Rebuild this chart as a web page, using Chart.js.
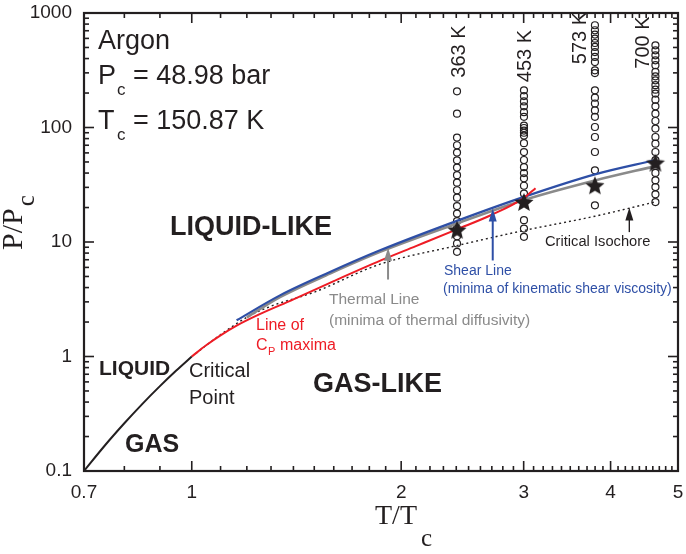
<!DOCTYPE html>
<html>
<head>
<meta charset="utf-8">
<script src="https://cdn.jsdelivr.net/npm/chart.js@4.4.0/dist/chart.umd.min.js"></script>
<style>
html, body { margin: 0; padding: 0; background: #fff; }
</style>
</head>
<body>
<canvas id="grafico" width="686" height="554"></canvas>
<script>
// tick labels
const xTicks = [0.7, 1, 2, 3, 4, 5];
const yTicks = [0.1, 1, 10, 100, 1000];

// vapour-liquid coexistence (T/Tc, P/Pc)
const coexT = [0.7, 0.75, 0.8, 0.85, 0.9, 0.95, 1.0];
const coexP = [0.1, 0.167, 0.261, 0.388, 0.551, 0.754, 1.0];

// line of Cp maxima
const cpT = [1.0, 1.05, 1.1, 1.16, 1.25, 1.4, 1.6, 1.87, 2.1, 2.405, 2.7, 3.0, 3.12];
const cpP = [1.0, 1.26, 1.53, 1.86, 2.33, 3.15, 4.55, 6.9, 9.2, 12.9, 17.3, 24.2, 29.5];

// shear line (minima of kinematic shear viscosity)
const shearT = [1.16, 1.339, 1.58, 1.865, 2.405, 3.003, 3.798, 4.64];
const shearP = [2.07, 3.42, 5.47, 8.46, 15.3, 24.8, 39.0, 52.0];

// thermal line (minima of thermal diffusivity)
const thermalT = [1.2, 1.339, 1.58, 1.865, 2.405, 3.003, 3.798, 4.64];
const thermalP = [2.2, 3.3, 5.3, 8.2, 14.5, 23.3, 34.5, 46.0];

// critical isochore
const isoT = [1.0, 1.1, 1.2, 1.3, 1.5, 1.865, 2.405, 3.003, 3.798, 4.64];
const isoP = [1.0, 1.55, 2.2, 2.75, 3.65, 6.4, 9.3, 12.6, 16.8, 22.4];

// isotherms: 363 K, 453 K, 573 K, 700 K
const isoLabels = ["363 K", "453 K", "573 K", "700 K"];
const columnT = [2.406, 3.003, 3.798, 4.640];
const starP = [12.8, 22.4, 31.3, 49.3];
const points363 = [207, 132, 81.7, 70, 60.4, 51.7, 44.7, 38.3, 33.0, 28.3, 24.4, 20.6, 17.7, 15.2, 13.1, 11.2, 9.7, 8.2];
const points453 = [211, 188, 169, 153, 136, 124, 104, 99, 94, 90, 85, 73, 61, 52, 45, 40, 36, 31, 26.5, 23.5, 15.5, 13.1, 11.1];
const points573 = [782, 707, 648, 597, 547, 505, 456, 413, 373, 316, 299, 211, 182, 162, 141, 124, 101, 82.6, 61.1, 42.3, 20.9];
const points700 = [522, 472, 427, 386, 350, 306, 280, 258, 234, 214, 198, 175, 153, 132, 114, 97.8, 82.6, 72.3, 61.1, 51.8, 40.1, 34.6, 30.2, 26.1, 22.3];

// arrows (T/Tc, from P/Pc, to P/Pc)
const arrowT = [1.915, 2.708, 4.256];
const arrowFrom = [4.7, 6.9, 12.2];
const arrowTo = [8.9, 19.6, 20.0];

const ink = "#231f20";
const red = "#ee1c25";
const blue = "#2e4fa6";
const grey = "#8a8a8a";
const sans = "'Liberation Sans', Arial, sans-serif";
const serif = "'Liberation Serif', 'Times New Roman', serif";

function pares(xs, ys) {
    return xs.map((x, i) => ({ x: x, y: ys[i] }));
}

function estrela(r) {
    const c = document.createElement("canvas");
    const s = Math.ceil(r * 2 + 2);
    c.width = s;
    c.height = s;
    const g = c.getContext("2d");
    g.fillStyle = ink;
    g.beginPath();
    for (let i = 0; i < 10; i++) {
        const rr = i % 2 ? r * 0.45 : r;
        const a = -Math.PI / 2 + i * Math.PI / 5;
        g.lineTo(s / 2 + rr * Math.cos(a), s / 2 + 1 + rr * Math.sin(a));
    }
    g.closePath();
    g.fill();
    return c;
}

const circulos = [];
[points363, points453, points573, points700].forEach((col, k) => {
    col.forEach(p => circulos.push({ x: columnT[k], y: p }));
});

function linha(data, color, width, order, dash) {
    return {
        data: data,
        showLine: true,
        borderColor: color,
        borderWidth: width,
        borderDash: dash || [],
        pointRadius: 0,
        cubicInterpolationMode: "monotone",
        fill: false,
        order: order
    };
}

// frame with inward ticks on all four sides
const moldura = {
    id: "moldura",
    afterDatasetsDraw(chart) {
        const { ctx, chartArea: a, scales: { x, y } } = chart;
        ctx.save();
        ctx.strokeStyle = ink;
        ctx.lineCap = "butt";
        ctx.lineWidth = 1.6;
        const seg = (x0, y0, x1, y1) => {
            ctx.beginPath();
            ctx.moveTo(x0, y0);
            ctx.lineTo(x1, y1);
            ctx.stroke();
        };
        // x: 0.8, 0.9 and every 0.1 from 1 to 5
        for (let k = 8; k < 50; k++) {
            const px = x.getPixelForValue(k / 10);
            const len = k % 10 === 0 ? 10 : 5;
            seg(px, a.bottom, px, a.bottom - len);
            seg(px, a.top, px, a.top + len);
        }
        for (let d = -1; d < 3; d++) {
            for (let m = 1; m < 10; m++) {
                const py = y.getPixelForValue(m * Math.pow(10, d));
                const len = m === 1 ? 10 : 5;
                seg(a.left, py, a.left + len, py);
                seg(a.right, py, a.right - len, py);
            }
        }
        ctx.lineWidth = 2.2;
        ctx.strokeRect(a.left, a.top, a.right - a.left, a.bottom - a.top);

        // arrows
        const cores = [grey, blue, ink];
        arrowT.forEach((t, i) => {
            const px = x.getPixelForValue(t);
            const y0 = y.getPixelForValue(arrowFrom[i]);
            const y1 = y.getPixelForValue(arrowTo[i]);
            ctx.strokeStyle = cores[i];
            ctx.fillStyle = cores[i];
            ctx.lineWidth = i === 2 ? 1.4 : 2;
            seg(px, y0, px, y1 + 10);
            ctx.beginPath();
            ctx.moveTo(px, y1);
            ctx.lineTo(px - 4, y1 + 13);
            ctx.lineTo(px + 4, y1 + 13);
            ctx.closePath();
            ctx.fill();
        });
        ctx.restore();
    },
    afterDraw(chart) {
        const { ctx, scales: { x } } = chart;
        ctx.save();
        ctx.fillStyle = ink;
        ctx.textBaseline = "alphabetic";
        ctx.textAlign = "left";

        ctx.font = "27px " + sans;
        ctx.fillText("Argon", 98, 48.5);
        ctx.fillText("P", 98, 83.5);
        ctx.fillText("= 48.98 bar", 133, 83.5);
        ctx.fillText("T", 98, 128.5);
        ctx.fillText("= 150.87 K", 133, 128.5);
        ctx.font = "17px " + sans;
        ctx.fillText("c", 117, 95);
        ctx.fillText("c", 117, 140);

        ctx.font = "bold 27px " + sans;
        ctx.fillText("LIQUID-LIKE", 170, 235);
        ctx.fillText("GAS-LIKE", 313, 392);
        ctx.font = "bold 21px " + sans;
        ctx.fillText("LIQUID", 99, 375);
        ctx.font = "bold 25px " + sans;
        ctx.fillText("GAS", 125, 452);

        ctx.font = "20px " + sans;
        ctx.fillText("Critical", 189, 377);
        ctx.fillText("Point", 189, 403.5);

        ctx.fillStyle = red;
        ctx.font = "16px " + sans;
        ctx.fillText("Line of", 256, 330);
        ctx.fillText("C", 256, 350);
        ctx.fillText("maxima", 280, 350);
        ctx.font = "11px " + sans;
        ctx.fillText("P", 268, 355);

        ctx.fillStyle = grey;
        ctx.font = "15.5px " + sans;
        ctx.fillText("Thermal Line", 329, 304);
        ctx.fillText("(minima of thermal diffusivity)", 329, 324.5);

        ctx.fillStyle = blue;
        ctx.font = "14px " + sans;
        ctx.fillText("Shear Line", 444, 274.5);
        ctx.fillText("(minima of kinematic shear viscosity)", 443, 293);

        ctx.fillStyle = ink;
        ctx.font = "14.7px " + sans;
        ctx.fillText("Critical Isochore", 545, 246);

        // isotherm labels
        const posY = [51.5, 56, 38, 42.5];
        const dx = [2.5, 1.5, -14, -12];
        ctx.font = "20px " + sans;
        ctx.textAlign = "center";
        ctx.textBaseline = "middle";
        columnT.forEach((t, i) => {
            ctx.save();
            ctx.translate(x.getPixelForValue(t) + dx[i], posY[i]);
            ctx.rotate(-Math.PI / 2);
            ctx.fillText(isoLabels[i], 0, 0);
            ctx.restore();
        });

        // axis titles
        ctx.textAlign = "left";
        ctx.textBaseline = "alphabetic";
        ctx.font = "28px " + serif;
        ctx.fillText("T/T", 375, 524);
        ctx.font = "25px " + serif;
        ctx.fillText("c", 421, 546);

        ctx.save();
        ctx.translate(22, 250);
        ctx.rotate(-Math.PI / 2);
        ctx.font = "30px " + serif;
        ctx.fillText("P/P", 0, 0);
        const w = ctx.measureText("P/P").width;
        ctx.font = "25px " + serif;
        ctx.fillText("c", w + 2, 12);
        ctx.restore();
        ctx.restore();
    }
};

const ctx = document.getElementById("grafico").getContext("2d");

new Chart(ctx, {
    type: "scatter",
    data: {
        datasets: [
            {
                data: pares(columnT, starP),
                pointStyle: estrela(10),
                pointRadius: 10,
                order: 0
            },
            linha(pares(cpT, cpP), red, 2, 1),
            linha(pares(shearT, shearP), blue, 2.2, 2),
            linha(pares(thermalT, thermalP), grey, 2.6, 3),
            linha(pares(isoT, isoP), ink, 1.4, 4, [2, 3]),
            linha(pares(coexT, coexP), ink, 2, 4),
            {
                data: circulos,
                pointStyle: "circle",
                pointRadius: 3.5,
                borderWidth: 1.2,
                borderColor: ink,
                backgroundColor: "rgba(255,255,255,0)",
                order: 5
            }
        ]
    },
    options: {
        responsive: false,
        animation: false,
        layout: { autoPadding: false, padding: { left: 0, right: 8, top: 13, bottom: 0 } },
        plugins: {
            legend: { display: false },
            tooltip: { enabled: false }
        },
        scales: {
            x: {
                type: "logarithmic",
                min: 0.7,
                max: 5,
                grid: { display: false, drawTicks: false },
                border: { display: false },
                afterBuildTicks: s => { s.ticks = xTicks.map(v => ({ value: v })); },
                afterFit: s => { s.height = 83; s.paddingLeft = 0; s.paddingRight = 0; },
                ticks: {
                    color: ink,
                    padding: 10,
                    maxRotation: 0,
                    autoSkip: false,
                    font: { family: sans, size: 19 },
                    callback: v => String(v)
                }
            },
            y: {
                type: "logarithmic",
                min: 0.1,
                max: 1000,
                grid: { display: false, drawTicks: false },
                border: { display: false },
                afterBuildTicks: s => { s.ticks = yTicks.map(v => ({ value: v })); },
                afterFit: s => { s.width = 84; s.paddingTop = 0; s.paddingBottom = 0; },
                ticks: {
                    color: ink,
                    padding: 12,
                    autoSkip: false,
                    font: { family: sans, size: 19 },
                    callback: v => String(v)
                }
            }
        }
    },
    plugins: [moldura]
});
</script>
</body>
</html>
